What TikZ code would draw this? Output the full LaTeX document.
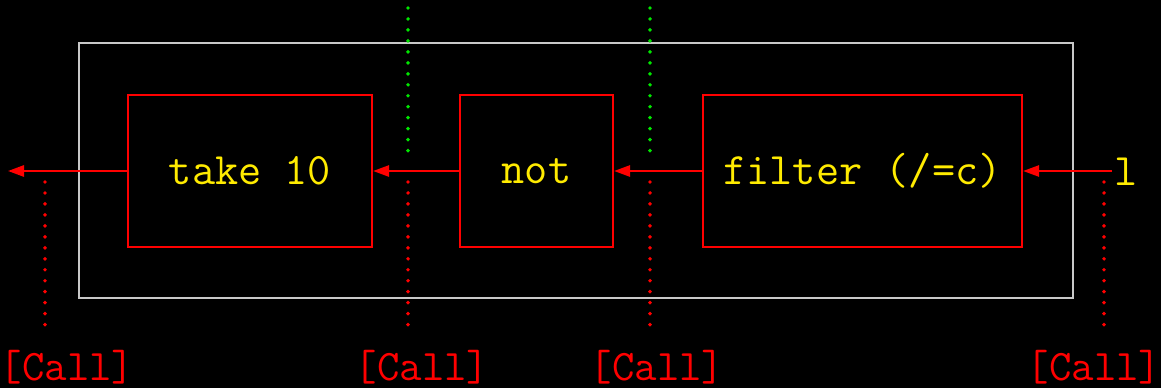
\documentclass[tikz,border=0pt]{standalone}
\usetikzlibrary{arrows.meta}
\definecolor{fgred}{RGB}{255,0,0}
\definecolor{fgyellow}{RGB}{255,235,0}
\definecolor{fggreen}{RGB}{0,230,0}
\definecolor{framegray}{RGB}{200,200,200}
\begin{document}
\begin{tikzpicture}[x=0.025cm,y=-0.025cm,
  stagebox/.style={draw=fgred,line width=1.5pt,minimum height=3.8cm,inner sep=0pt,
    text=fgyellow,font=\fontsize{32}{36}\selectfont\ttfamily},
  flow/.style={draw=fgred,line width=1.5pt,-{Triangle[length=0.4cm,width=0.28cm]}},
  reddots/.style={draw=fgred,line width=2.8pt,line cap=round,dash pattern=on 0pt off 7.8pt},
  greendots/.style={draw=fggreen,line width=2.8pt,line cap=round,dash pattern=on 0pt off 7.8pt},
  calllabel/.style={text=fgred,inner sep=0pt,font=\fontsize{31}{35}\selectfont\ttfamily},
  inlabel/.style={text=fgyellow,inner sep=0pt,font=\fontsize{32}{36}\selectfont\ttfamily}]
\fill[black] (0,0) rectangle (1161,388);
\useasboundingbox (0,0) rectangle (1161,388);
% outer frame
\draw[framegray,line width=0.8pt] (79,43) rectangle (1073,298);
% stages
\node[stagebox,minimum width=6.1cm] (take) at (250,171) {take 10};
\node[stagebox,minimum width=3.825cm] (nt) at (536.5,171) {not};
\node[stagebox,minimum width=7.975cm] (filt) at (862.5,171) {filter (/=c)};
\node[inlabel] (inp) at (1126,172) {l};
\coordinate (instart) at (1112,171);
\coordinate (outend) at (8,171);
% flow arrows
\draw[flow] (instart) -- (filt.east);
\draw[flow] (filt.west) -- (nt.east);
\draw[flow] (nt.west) -- (take.east);
\draw[flow] (take.west) -- (outend);
% dotted markers
\coordinate (g1t) at (408,8); \coordinate (g1b) at (408,157);
\coordinate (g2t) at (650,8); \coordinate (g2b) at (650,157);
\draw[greendots] (g1t) -- (g1b);
\draw[greendots] (g2t) -- (g2b);
\coordinate (r1t) at (45,182); \coordinate (r1b) at (45,330);
\coordinate (r2t) at (408,182); \coordinate (r2b) at (408,330);
\coordinate (r3t) at (650,182); \coordinate (r3b) at (650,330);
\coordinate (r4t) at (1104,182); \coordinate (r4b) at (1104,330);
\draw[reddots] (r1t) -- (r1b);
\draw[reddots] (r2t) -- (r2b);
\draw[reddots] (r3t) -- (r3b);
\draw[reddots] (r4t) -- (r4b);
% call labels
\node[calllabel] (c1) at (67,367) {[Call]};
\node[calllabel] (c2) at (422,367) {[Call]};
\node[calllabel] (c3) at (657,367) {[Call]};
\node[calllabel] (c4) at (1094,367) {[Call]};
\end{tikzpicture}
\end{document}
